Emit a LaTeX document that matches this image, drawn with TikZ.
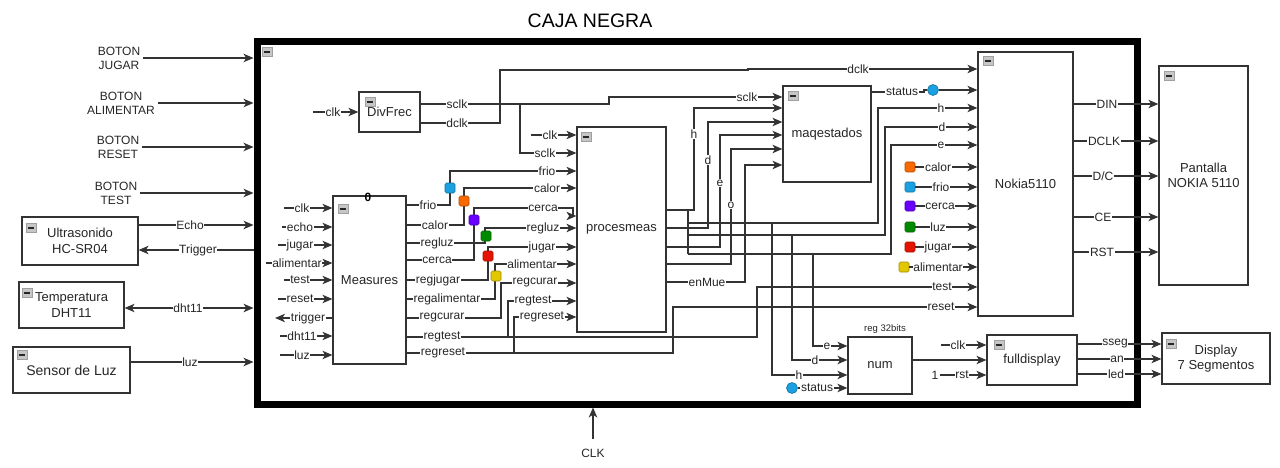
\documentclass[tikz,border=0pt]{standalone}
\usepackage{fontspec}
\setmainfont{Liberation Sans}
\usetikzlibrary{arrows.meta}
\definecolor{cblue}{HTML}{1BA1E2}
\definecolor{corange}{HTML}{FA6800}
\definecolor{cpurple}{HTML}{6A00FF}
\definecolor{cgreen}{HTML}{008A00}
\definecolor{cred}{HTML}{E51400}
\definecolor{cyellow}{HTML}{E3C800}
\tikzset{
 wire/.style={draw=black!80, line width=1.2pt},
 sig/.style={wire, -{Stealth[length=10pt,width=8.5pt,inset=2.8pt]}},
 sigb/.style={wire, {Stealth[length=10pt,width=8.5pt,inset=2.8pt]}-{Stealth[length=10pt,width=8.5pt,inset=2.8pt]}},
 box/.style={draw=black!80, line width=1.2pt, fill=white, font=\fontsize{13}{15.5}\selectfont, align=center, inner sep=0pt, text=black!85},
 lbl/.style={fill=white, inner sep=0.6pt, font=\fontsize{12}{12}\selectfont, text=black!85},
 ext/.style={align=center, inner sep=1pt, font=\fontsize{12}{14}\selectfont, text=black!85},
 sq/.style={minimum size=10pt, inner sep=0pt, rounded corners=1.5pt, draw=#1!70!black, fill=#1, line width=0.6pt},
 dot/.style={circle, fill=cblue, draw=cblue!70!black, minimum size=11pt, inner sep=0pt, line width=0.6pt},
 mini/.pic={\draw[fill=gray!45, draw=gray!75, line width=0.6pt] (-5,-4.5) rectangle (5,4.5);
            \draw[line width=1.3pt, gray!30!black] (-3.2,0) -- (3.2,0);}
}
\begin{document}
\begin{tikzpicture}[x=1pt,y=-1pt]
\useasboundingbox (0,0) rectangle (1280,468);

% title and frame
\node[font=\fontsize{19.5}{22}\selectfont] (title) at (590,21) {CAJA NEGRA};
\node[draw=black, line width=7pt, minimum width=880pt, minimum height=362pt, inner sep=0pt] (caja) at (697,223) {};

% boxes
\node[box, minimum width=116pt, minimum height=48pt] (ultra) at (80,241) {Ultrasonido\\HC-SR04};
\node[box, minimum width=105pt, minimum height=46pt] (temp) at (71.5,305) {Temperatura\\DHT11};
\node[box, minimum width=117pt, minimum height=46pt, font=\fontsize{14}{16}\selectfont] (luzs) at (71.5,370) {Sensor de Luz};
\node[box, minimum width=61pt, minimum height=40pt] (divfrec) at (389.5,112) {DivFrec};
\node[box, minimum width=73pt, minimum height=168pt] (meas) at (369.5,280) {Measures};
\node[box, minimum width=89pt, minimum height=205pt] (proc) at (621.5,229.5) {procesmeas};
\node[box, minimum width=88pt, minimum height=96pt] (maq) at (827,134) {maqestados};
\node[box, minimum width=95pt, minimum height=264pt] (nokia) at (1025.5,184) {Nokia5110};
\node[box, minimum width=89pt, minimum height=219pt] (pant) at (1203.5,175.5) {Pantalla\\NOKIA 5110};
\node[box, minimum width=64pt, minimum height=57pt] (num) at (880,365.5) {num};
\node[box, minimum width=90pt, minimum height=50pt] (full) at (1032,360) {fulldisplay};
\node[box, minimum width=108pt, minimum height=51pt] (disp) at (1216,358.5) {Display\\7 Segmentos};
\node[font=\fontsize{9.5}{10}\selectfont, text=black!85] (r32) at (885,329) {reg 32bits};
\node[font=\bfseries\fontsize{12}{12}\selectfont] (m0) at (368,197) {0};

% minimize icons
\foreach \p in {(267,52),(31,228),(27,293),(22,355),(370,102),(343,209),(586,137),(793,96),(988,61),(1169,76),(999,345),(1171,344)}
  \pic at \p {mini};

% external buttons
\node[ext] (btj) at (119,58) {BOTON\\JUGAR};
\node[ext] (bta) at (121,103) {BOTON\\ALIMENTAR};
\node[ext] (btr) at (118,147) {BOTON\\RESET};
\node[ext] (btt) at (116,193) {BOTON\\TEST};
\foreach \b in {btj,bta,btr,btt}
  \draw[sig] ([xshift=2pt]\b.east) -- (\b.east -| caja.west);

% sensors
\draw[sig] (ultra.east |- 0,225) -- (caja.west |- 0,225) node[lbl] at (190,225) {Echo};
\draw[sig] (caja.west |- 0,250) -- (ultra.east |- 0,250) node[lbl] at (198,250) {Trigger};
\draw[sigb] (temp.east |- 0,308) -- (caja.west |- 0,308) node[lbl] at (188,308) {dht11};
\draw[sig] (luzs.east |- 0,362) -- (caja.west |- 0,362) node[lbl] at (190,362) {luz};

% CLK
\node[ext] (clkin) at (593,453) {CLK};
\draw[sig] ([yshift=9pt]clkin.north) -- (clkin.north |- caja.south);

% DivFrec
\draw[sig] (313,112) -- (divfrec.west |- 0,112) node[lbl] at (333,112) {clk};
\draw[sig] (divfrec.east |- 0,104) -- (609,104) -- (609,97) -- (maq.west |- 0,97)
   node[lbl] at (457,104) {sclk} node[lbl] at (747,97) {sclk};
\draw[sig] (520,104) -- (520,153) -- (proc.west |- 0,153) node[lbl] at (545,153) {sclk};
\draw[sig] (divfrec.east |- 0,123) -- (500,123) -- (500,70) -- (748,70) -- (748,69) -- (nokia.west |- 0,69)
   node[lbl] at (457,123) {dclk} node[lbl] at (858,69) {dclk};
\draw[sig] (531,135) -- (proc.west |- 0,135) node[lbl] at (550,135) {clk};

% Measures inputs
\foreach \y/\x/\lx/\t in {208/284/302/clk, 227/282/300/echo, 245/278/300/jugar, 263/266/297/alimentar, 280/284/300/test, 299/278/300/reset, 336/280/302/dht11, 355/280/302/luz}
  \draw[sig] (\x,\y) -- (meas.west |- 0,\y) node[lbl] at (\lx,\y) {\t};
\draw[sig] (meas.west |- 0,318) -- (275,318) node[lbl] at (308,318) {trigger};

% Measures -> procesmeas
\draw[sig] (meas.east |- 0,205) -- (450,205) -- (450,171) -- (proc.west |- 0,171) node[lbl] at (428,205) {frio} node[lbl] at (547,171) {frio};
\draw[sig] (meas.east |- 0,225) -- (464,225) -- (464,188) -- (proc.west |- 0,188) node[lbl] at (435,225) {calor} node[lbl] at (547,188) {calor};
\draw[sig] (meas.east |- 0,243) -- (485,243) -- (485,228) -- (proc.west |- 0,228) node[lbl] at (437,243) {regluz} node[lbl] at (543,228) {regluz};
\draw[sig] (meas.east |- 0,260) -- (474,260) -- (474,208) -- (573,208) -- (573,216) -- (proc.west |- 0,216) node[lbl] at (437,260) {cerca} node[lbl] at (543,208) {cerca};
\draw[sig] (meas.east |- 0,280) -- (488,280) -- (488,247) -- (proc.west |- 0,247) node[lbl] at (438,280) {regjugar} node[lbl] at (542,247) {jugar};
\draw[sig] (meas.east |- 0,299) -- (495,299) -- (495,264) -- (proc.west |- 0,264) node[lbl] at (447,299) {regalimentar} node[lbl] at (532,264) {alimentar};
\draw[sig] (meas.east |- 0,318) -- (501,318) -- (501,283) -- (proc.west |- 0,283) node[lbl] at (442,318) {regcurar} node[lbl] at (535,283) {regcurar};
\draw[sig] (meas.east |- 0,337) -- (757,337) -- (757,287) -- (nokia.west |- 0,287) node[lbl] at (442,337) {regtest} node[lbl] at (942,287) {test};
\draw[sig] (508,337) -- (508,301) -- (proc.west |- 0,301) node[lbl] at (533,301) {regtest};
\draw[sig] (meas.east |- 0,353) -- (673,353) -- (673,307) -- (nokia.west |- 0,307) node[lbl] at (443,353) {regreset} node[lbl] at (941,307) {reset};
\draw[sig] (514,353) -- (514,317) -- (proc.west |- 0,317) node[lbl] at (542,317) {regreset};

% colour markers on Measures outputs
\node[sq=cblue] (q1) at (450,188) {};
\node[sq=corange] (q2) at (464,201) {};
\node[sq=cpurple] (q3) at (474,220) {};
\node[sq=cgreen] (q4) at (486,236) {};
\node[sq=cred] (q5) at (488,256) {};
\node[sq=cyellow] (q6) at (496,276) {};

% procesmeas -> maqestados
\draw[sig] (proc.east |- 0,210) -- (694,210) -- (694,108) -- (maq.west |- 0,108) node[lbl] at (694,134) {h};
\draw[sig] (proc.east |- 0,228) -- (708,228) -- (708,122) -- (maq.west |- 0,122) node[lbl] at (708,160) {d};
\draw[sig] (proc.east |- 0,247) -- (720,247) -- (720,135) -- (maq.west |- 0,135) node[lbl] at (720,183) {e};
\draw[sig] (proc.east |- 0,264) -- (731,264) -- (731,149) -- (maq.west |- 0,149) node[lbl] at (731,205) {o};
\draw[sig] (proc.east |- 0,282) -- (745,282) -- (745,165) -- (maq.west |- 0,165) node[lbl] at (707,282) {enMue};

% h d e to Nokia
\draw[wire] (688,210) -- (688,254);
\draw[sig] (688,223) -- (878,223) -- (878,108) -- (nokia.west |- 0,108) node[lbl] at (941,108) {h};
\draw[sig] (688,235) -- (885,235) -- (885,127) -- (nokia.west |- 0,127) node[lbl] at (942,127) {d};
\draw[sig] (688,254) -- (891,254) -- (891,145) -- (nokia.west |- 0,145) node[lbl] at (941,145) {e};

% h d e to num
\draw[sig] (772,223) -- (772,375) -- (num.west |- 0,375) node[lbl] at (799,375) {h};
\draw[sig] (792,235) -- (792,360) -- (num.west |- 0,360) node[lbl] at (815,360) {d};
\draw[sig] (813,254) -- (813,346) -- (num.west |- 0,346) node[lbl] at (827,346) {e};

% status
\node[dot] (st1) at (933,90) {};
\draw[wire] (maq.east |- 0,92) -- (924,92) -- (924,90) -- (st1.west) node[lbl] at (902,92) {status};
\draw[sig] (st1.east) -- (nokia.west |- st1.east);
\node[dot] (st2) at (792,388) {};
\draw[sig] (st2.east) -- (num.west |- st2.east) node[lbl] at (817,388) {status};

% Nokia coloured inputs
\foreach \y/\c/\t/\lx/\sx in {167/corange/calor/938/910, 187/cblue/frio/941/910, 206/cpurple/cerca/940/910, 227/cgreen/luz/938/910, 247/cred/jugar/938/910, 267/cyellow/alimentar/938/904}
{
  \node[sq=\c] (nk\t) at (\sx,\y) {};
  \draw[sig] (nk\t.east) -- (nokia.west |- 0,\y) node[lbl] at (\lx,\y) {\t};
}

% Nokia -> Pantalla
\foreach \y/\t/\lx in {104/DIN/1107, 141/DCLK/1104, 176/{D/C}/1103, 217/CE/1103, 252/RST/1102}
  \draw[sig] (nokia.east |- 0,\y) -- (pant.west |- 0,\y) node[lbl] at (\lx,\y) {\t};

% num -> fulldisplay -> Display
\draw[sig] (num.east |- 0,360) -- (full.west |- 0,360);
\draw[sig] (941,345) -- (full.west |- 0,345) node[lbl] at (958,345) {clk};
\node[ext] (one) at (935,375) {1};
\draw[sig] (one.east) -- (full.west |- one.east) node[lbl] at (962,375) {rst};
\foreach \y/\t/\lx in {344/sseg/1115, 359/an/1117, 374/led/1116}
  \draw[sig] (full.east |- 0,\y) -- (disp.west |- 0,\y) node[lbl] at (\lx,\y) {\t};

\end{tikzpicture}
\end{document}
